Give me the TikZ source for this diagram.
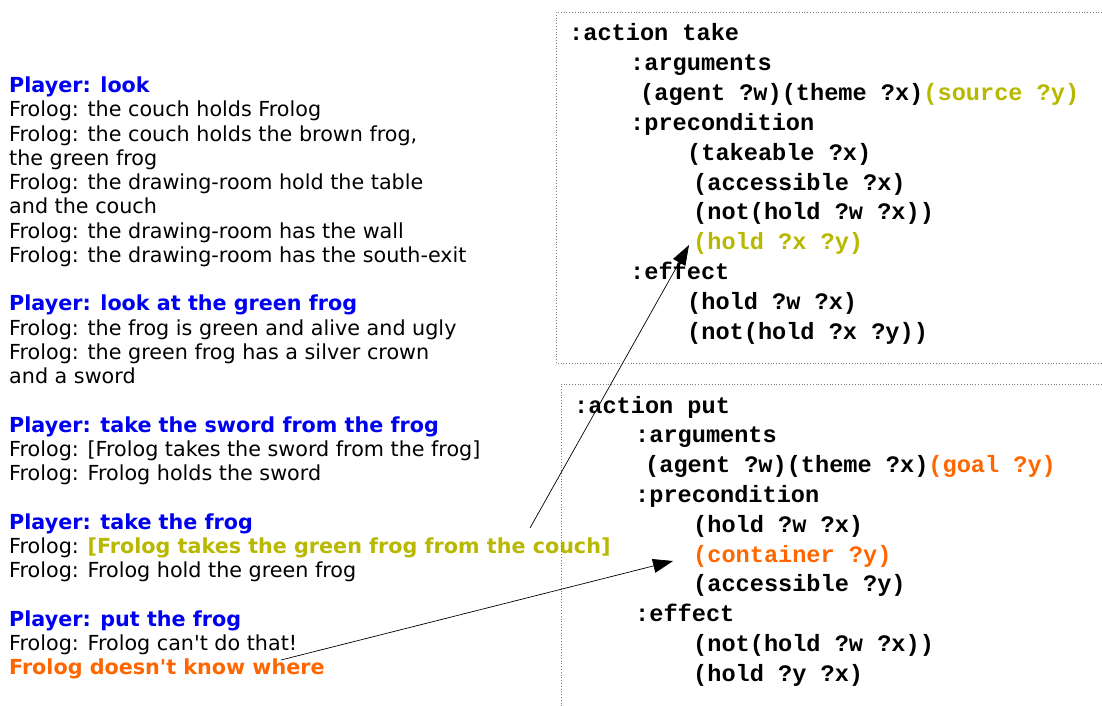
\documentclass[tikz,border=0pt]{standalone}
\usepackage{fontspec}
\setmainfont{DejaVu Sans}
\newfontfamily\codefont{Liberation Mono}
\usetikzlibrary{arrows.meta}
\definecolor{pblue}{RGB}{0,0,240}
\definecolor{polive}{RGB}{184,184,0}
\definecolor{porange}{RGB}{255,102,0}
\tikzset{
 lt/.style={anchor=base west, inner sep=0pt, font=\fontsize{20.7}{24.25}\selectfont},
 pl/.style={anchor=base west, inner sep=0pt, text=pblue, font=\fontsize{20.7}{24.25}\selectfont\bfseries},
 cd/.style={anchor=base west, inner sep=0pt, font=\codefont\fontsize{23.6}{29.8}\selectfont\bfseries},
 dotbox/.style={draw=gray, dotted, line width=0.8pt},
 arr/.style={-{Triangle[length=20pt,width=14pt]}, line width=0.7pt}
}
\begin{document}
\begin{tikzpicture}[x=1pt,y=-1pt]
\useasboundingbox (0,0) rectangle (1102,706);
% left dialogue
\begin{scope}[yshift=-1.5pt]
\node[pl] (l1) at (9,91) {Player: look};
\node[lt] (l2) at (9,115.25) {Frolog: the couch holds Frolog};
\node[lt] (l3) at (9,139.5) {Frolog: the couch holds the brown frog,};
\node[lt] (l4) at (9,163.75) {the green frog};
\node[lt] (l5) at (9,188) {Frolog: the drawing-room hold the table};
\node[lt] (l6) at (9,212.25) {and the couch};
\node[lt] (l7) at (9,236.5) {Frolog: the drawing-room has the wall};
\node[lt] (l8) at (9,260.75) {Frolog: the drawing-room has the south-exit};
\node[pl] (l10) at (9,309.25) {Player: look at the green frog};
\node[lt] (l11) at (9,333.5) {Frolog: the frog is green and alive and ugly};
\node[lt] (l12) at (9,357.75) {Frolog: the green frog has a silver crown};
\node[lt] (l13) at (9,382) {and a sword};
\node[pl] (l15) at (9,430.5) {Player: take the sword from the frog};
\node[lt] (l16) at (9,454.75) {Frolog: [Frolog takes the sword from the frog]};
\node[lt] (l17) at (9,479) {Frolog: Frolog holds the sword};
\node[pl] (l19) at (9,527.5) {Player: take the frog};
\node[lt] (l20) at (9,551.75) {Frolog: {\bfseries\color{polive}[Frolog takes the green frog from the couch]}};
\node[lt] (l21) at (9,576) {Frolog: Frolog hold the green frog};
\node[pl] (l23) at (9,624.5) {Player: put the frog};
\node[lt] (l24) at (9,648.75) {Frolog: Frolog can\textquotesingle t do that!};
\node[lt, text=porange, font=\fontsize{20.7}{24.25}\selectfont\bfseries] (l25) at (9,673) {Frolog doesn\textquotesingle t know where};
\end{scope}
% box take
\draw[dotbox] (1102,12) -- (556,12) -- (556,363) -- (1102,363);
\begin{scope}[yshift=-1pt]
\node[cd] (a1) at (569,40) {:action take};
\node[cd] (a2) at (630,69.8) {:arguments};
\node[cd] (a3) at (640,99.6) {(agent ?w)(theme ?x)\textcolor{polive}{(source ?y)}};
\node[cd] (a4) at (630,129.4) {:precondition};
\node[cd] (a5) at (687,159.2) {(takeable ?x)};
\node[cd] (a6) at (693,189) {(accessible ?x)};
\node[cd] (a7) at (693,218.8) {(not(hold ?w ?x))};
\node[cd, text=polive] (a8) at (693,248.6) {(hold ?x ?y)};
\node[cd] (a9) at (630,278.4) {:effect};
\node[cd] (a10) at (687,308.2) {(hold ?w ?x)};
\node[cd] (a11) at (687,338) {(not(hold ?x ?y))};
% box put
\node[cd] (b1) at (574,412) {:action put};
\node[cd] (b2) at (635,441.8) {:arguments};
\node[cd] (b3) at (645,471.6) {(agent ?w)(theme ?x)\textcolor{porange}{(goal ?y)}};
\node[cd] (b4) at (635,501.4) {:precondition};
\node[cd] (b5) at (693,531.2) {(hold ?w ?x)};
\node[cd, text=porange] (b6) at (693,561) {(container ?y)};
\node[cd] (b7) at (693,590.8) {(accessible ?y)};
\node[cd] (b8) at (635,620.6) {:effect};
\node[cd] (b9) at (693,650.4) {(not(hold ?w ?x))};
\node[cd] (b10) at (693,680.2) {(hold ?y ?x)};
\end{scope}
\draw[dotbox] (1102,384) -- (561,384) -- (561,706);
% arrows
\coordinate (s1) at (530,528);
\coordinate (t1) at (689,245);
\coordinate (s2) at (281,660);
\coordinate (t2) at (673,561);
\draw[arr] (s1) -- (t1);
\draw[arr] (s2) -- (t2);
\end{tikzpicture}
\end{document}
